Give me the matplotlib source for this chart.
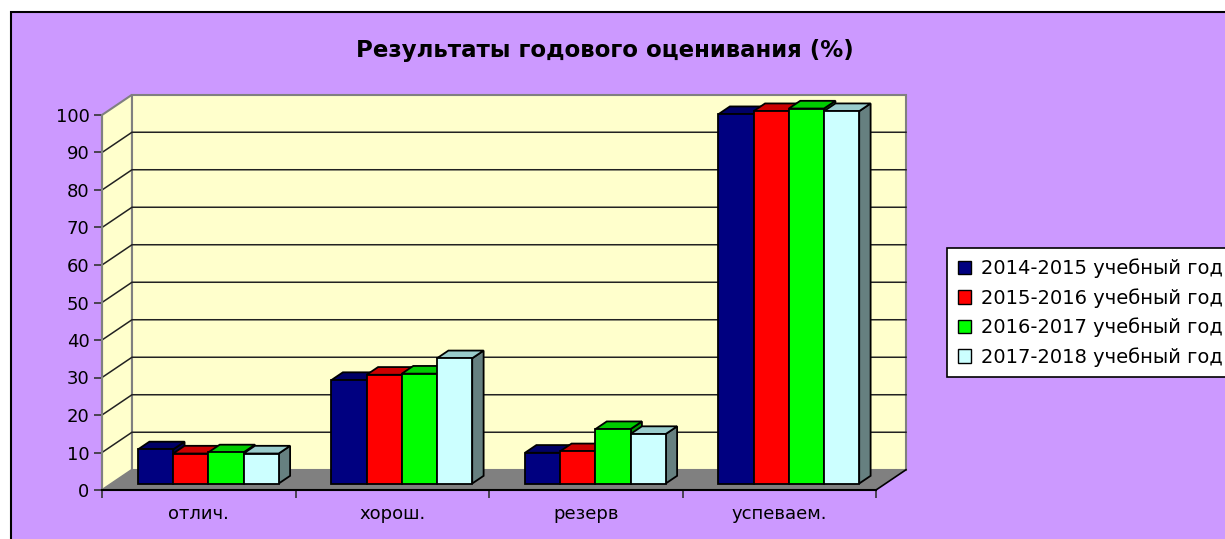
import matplotlib
matplotlib.use("Agg")
import matplotlib.pyplot as plt
from matplotlib.patches import Polygon, Patch, Rectangle

# data
categories = ['отлич.', 'хорош.', 'резерв', 'успеваем.']
series = ['2014-2015 учебный год', '2015-2016 учебный год',
          '2016-2017 учебный год', '2017-2018 учебный год']
v2014 = [9.1, 27.6, 8.2, 98.5]
v2015 = [8.0, 29.0, 8.6, 99.3]
v2016 = [8.3, 29.3, 14.5, 100.0]
v2017 = [8.0, 33.4, 13.2, 99.3]
values = [v2014, v2015, v2016, v2017]

front_colors = ['#000080', '#FF0000', '#00FF00', '#CCFFFF']
top_colors = ['#000066', '#CC0000', '#00CC00', '#99CCCC']
side_colors = ['#000050', '#990000', '#009900', '#668080']

# oblique depth of the 3-D box (x in category units, y in value units)
DX, DY = 0.155, 5.4
d0, d1 = 0.32, 0.70  # bar depth inside the floor
bar_w = 1 / 5.5      # gap width 150 %


def proj(x, v, d):
    return (x + d * DX, v + d * DY)


W, H = 1225, 539
fig = plt.figure(figsize=(W / 100, H / 100), dpi=100)
fig.patch.set_facecolor('white')
fig.patches.append(Rectangle((11 / W, -0.1), 1.1, 1 - 12 / H + 0.1,
                             transform=fig.transFigure, facecolor='#CC99FF',
                             edgecolor='black', lw=1.5, zorder=-5))

ax = fig.add_axes([102 / W, (H - 490) / H, 774 / W, 375 / H])
ax.set_xlim(0, len(categories))
ax.set_ylim(0, 100)
ax.patch.set_visible(False)
n = len(categories)

# walls and floor
wall = dict(facecolor='#FFFFCC', edgecolor='#808080', lw=1.5, clip_on=False, zorder=1)
ax.add_patch(Polygon([proj(0, 0, 0), proj(0, 0, 1), proj(0, 100, 1), proj(0, 100, 0)], **wall))
ax.add_patch(Polygon([proj(0, 0, 1), proj(n, 0, 1), proj(n, 100, 1), proj(0, 100, 1)], **wall))
for t in range(10, 100, 10):
    xs, ys = zip(proj(0, t, 0), proj(0, t, 1), proj(n, t, 1))
    ax.plot(xs, ys, color='#222222', lw=1.1, clip_on=False, zorder=2)
ax.add_patch(Polygon([proj(0, 0, 0), proj(n, 0, 0), proj(n, 0, 1), proj(0, 0, 1)],
                     facecolor='#808080', edgecolor='none', clip_on=False, zorder=3))
xs, ys = zip(proj(n, 0, 0), proj(n, 0, 1))
ax.plot(xs, ys, color='black', lw=1.2, clip_on=False, zorder=3)

# bars
for i in range(n):
    for j, vals in enumerate(values):
        v = vals[i]
        xl = i + 0.5 - 2 * bar_w + j * bar_w
        xr = xl + bar_w
        kw = dict(edgecolor='black', lw=1.3, clip_on=False, zorder=4)
        ax.add_patch(Polygon([proj(xr, 0, d0), proj(xr, 0, d1), proj(xr, v, d1), proj(xr, v, d0)],
                             facecolor=side_colors[j], **kw))
        ax.add_patch(Polygon([proj(xl, v, d0), proj(xr, v, d0), proj(xr, v, d1), proj(xl, v, d1)],
                             facecolor=top_colors[j], **kw))
        ax.add_patch(Polygon([proj(xl, 0, d0), proj(xr, 0, d0), proj(xr, v, d0), proj(xl, v, d0)],
                             facecolor=front_colors[j], **kw))

# axes
for s in ['top', 'right']:
    ax.spines[s].set_visible(False)
ax.spines['left'].set_color('#808080')
ax.spines['left'].set_linewidth(1.5)
ax.spines['bottom'].set_color('black')
ax.spines['bottom'].set_linewidth(1.5)
ax.spines['left'].set_zorder(5)
ax.spines['bottom'].set_zorder(5)
ax.set_yticks(range(0, 101, 10))
ax.tick_params(axis='y', length=6, width=1.2, color='#333333', pad=3, labelsize=13)
ax.set_xticks(range(n + 1))
ax.set_xticklabels([])
ax.set_xticks([i + 0.5 for i in range(n)], minor=True)
ax.set_xticklabels(categories, minor=True)
ax.tick_params(axis='x', which='major', length=6, width=1.2, color='#333333')
ax.tick_params(axis='x', which='minor', length=0, pad=11, labelsize=13)

fig.text(605 / W, 1 - 50 / H, 'Результаты годового оценивания (%)',
         ha='center', va='center', fontsize=16.5, fontweight='bold')

handles = [Patch(facecolor=c, edgecolor='black', lw=1) for c in front_colors]
leg = fig.legend(handles, series, loc='upper left', bbox_to_anchor=(947 / W, 1 - 248 / H),
                 fontsize=14, frameon=True, fancybox=False, facecolor='white',
                 edgecolor='black', framealpha=1, handlelength=0.7, handleheight=0.7,
                 handletextpad=0.5, labelspacing=0.5, borderpad=0.55, borderaxespad=0)
leg.get_frame().set_linewidth(1.2)

fig.savefig('out.png', dpi=100)
